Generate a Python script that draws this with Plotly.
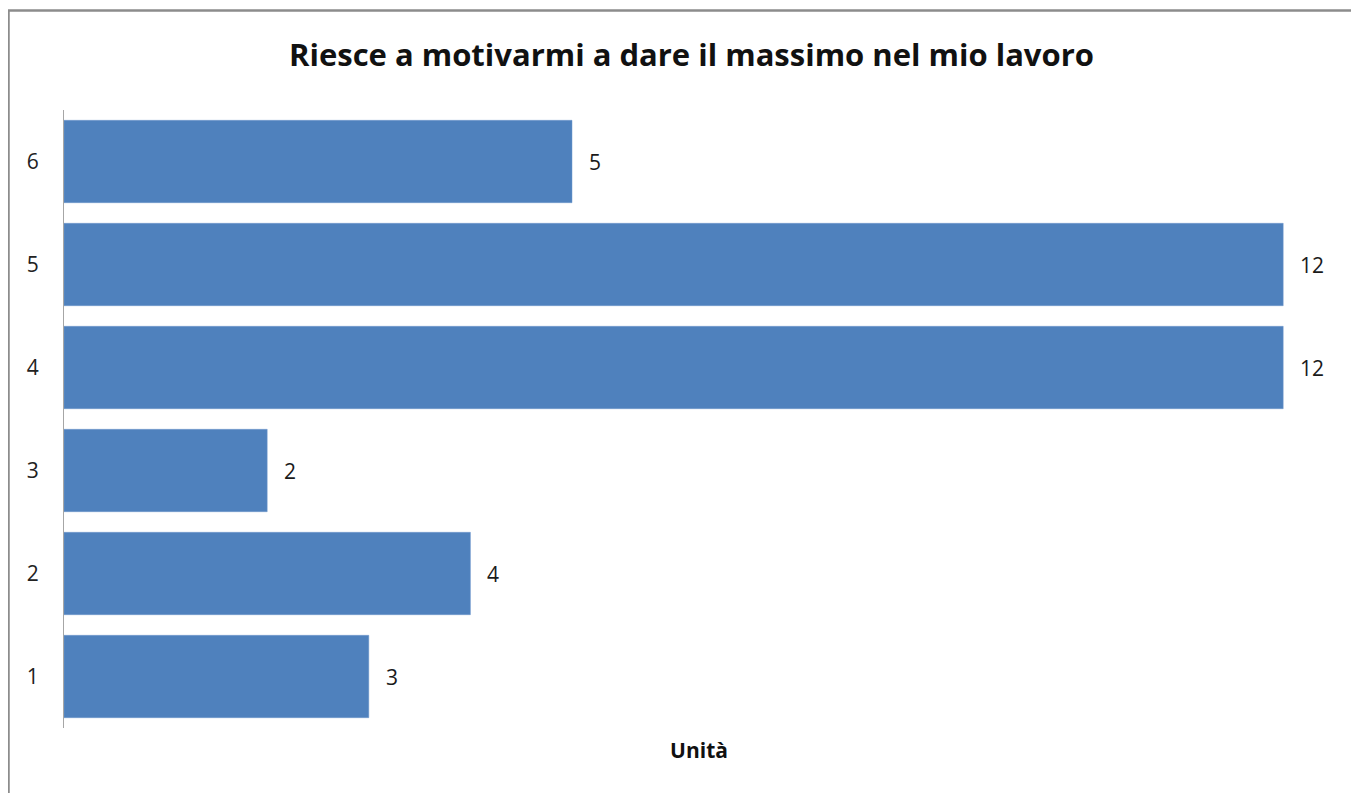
import plotly.graph_objects as go

categories = ["1", "2", "3", "4", "5", "6"]
values = [3, 4, 2, 12, 12, 5]
title_text = "Riesce a motivarmi a dare il massimo nel mio lavoro"
x_title = "Unità"

# page body has an 8px margin, so the figure is sized to fit the window
W, H = 1351, 785
ML, MR, MT, MB = 56, 25, 102, 65
PW, PH = W - ML - MR, H - MT - MB
FONT = "Open Sans"

fig = go.Figure()
fig.add_trace(go.Bar(
    y=categories, x=values, orientation="h",
    marker=dict(color="#4F81BD", line=dict(color="#6f98cc", width=0.5)),
    hoverinfo="x+y",
))

for i, (c, v) in enumerate(zip(categories, values)):
    fig.add_annotation(x=v, y=i, text=str(v), showarrow=False,
                       xanchor="left", xshift=15,
                       font=dict(family=FONT, size=21, color="#1a1a1a"))

fig.update_layout(
    width=W, height=H,
    paper_bgcolor="white", plot_bgcolor="white",
    margin=dict(l=ML, r=MR, t=MT, b=MB),
    bargap=0.2,
    showlegend=False,
    title=dict(text="<b>" + title_text + "</b>", x=683.5 / W, xanchor="center",
               y=1 - 47 / H, yanchor="middle", xref="container", yref="container",
               font=dict(family=FONT, size=31, color="#111111")),
    xaxis=dict(range=[0, 12.5], showticklabels=False, showgrid=False,
               zeroline=False, showline=False, ticks="",
               title=dict(text="<b>" + x_title + "</b>", standoff=15,
                          font=dict(family=FONT, size=21, color="#111111"))),
    yaxis=dict(type="category", categoryorder="array", categoryarray=categories,
               range=[-0.5, 5.5], showgrid=False, zeroline=False,
               showline=True, linecolor="#a6a6a6", linewidth=1, ticks="",
               ticklabelstandoff=20,
               tickfont=dict(family=FONT, size=21, color="#222222")),
)

fig.add_shape(type="rect", xref="paper", yref="paper",
              x0=(-ML + 0.5) / PW, x1=1.2, y0=-0.2, y1=1 + (MT - 2.5) / PH,
              line=dict(color="#8c8c8c", width=2.5), fillcolor="rgba(0,0,0,0)",
              layer="below")

fig.write_html("out.html")
